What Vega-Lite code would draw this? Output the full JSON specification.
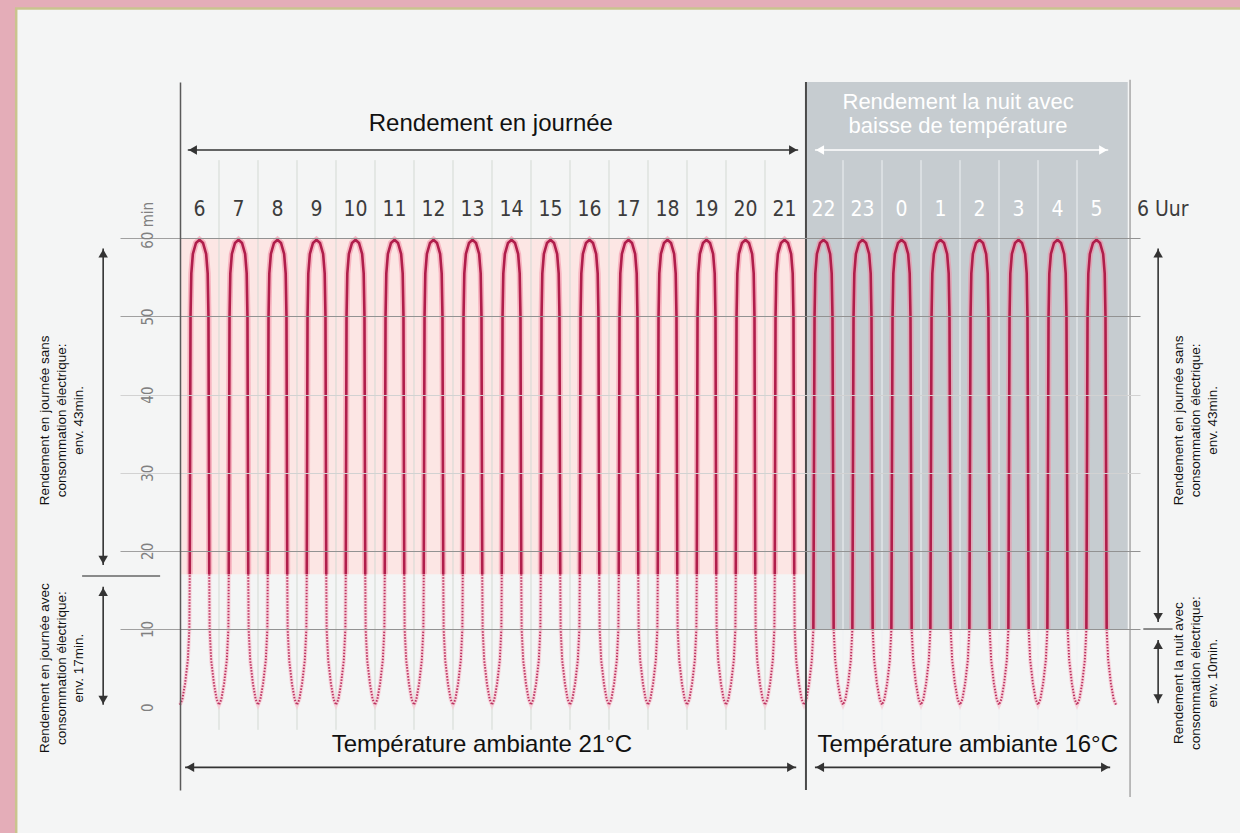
{
"$schema":"https://vega.github.io/schema/vega-lite/v6.json",
"width":960,"height":708,
"autosize":{"type":"none"},
"padding":{"left":180,"top":82,"right":100,"bottom":43},
"background":"#e4adb8",
"config":{"view":{"stroke":null},"font":"Liberation Sans"},
"resolve":{"scale":{"color":"independent"}},
"datasets":{
"arc":[
{"s":0,"x":0.25,"y":17},{"s":0,"x":0.27,"y":50},{"s":0,"x":0.29,"y":55.5},{"s":0,"x":0.33,"y":58},{"s":0,"x":0.41,"y":59.4},{"s":0,"x":0.5,"y":59.8},{"s":0,"x":0.59,"y":59.4},{"s":0,"x":0.67,"y":58},{"s":0,"x":0.71,"y":55.5},{"s":0,"x":0.73,"y":50},{"s":0,"x":0.75,"y":17},
{"s":1,"x":1.25,"y":17},{"s":1,"x":1.27,"y":50},{"s":1,"x":1.29,"y":55.5},{"s":1,"x":1.33,"y":58},{"s":1,"x":1.41,"y":59.4},{"s":1,"x":1.5,"y":59.8},{"s":1,"x":1.59,"y":59.4},{"s":1,"x":1.67,"y":58},{"s":1,"x":1.71,"y":55.5},{"s":1,"x":1.73,"y":50},{"s":1,"x":1.75,"y":17},
{"s":2,"x":2.25,"y":17},{"s":2,"x":2.27,"y":50},{"s":2,"x":2.29,"y":55.5},{"s":2,"x":2.33,"y":58},{"s":2,"x":2.41,"y":59.4},{"s":2,"x":2.5,"y":59.8},{"s":2,"x":2.59,"y":59.4},{"s":2,"x":2.67,"y":58},{"s":2,"x":2.71,"y":55.5},{"s":2,"x":2.73,"y":50},{"s":2,"x":2.75,"y":17},
{"s":3,"x":3.25,"y":17},{"s":3,"x":3.27,"y":50},{"s":3,"x":3.29,"y":55.5},{"s":3,"x":3.33,"y":58},{"s":3,"x":3.41,"y":59.4},{"s":3,"x":3.5,"y":59.8},{"s":3,"x":3.59,"y":59.4},{"s":3,"x":3.67,"y":58},{"s":3,"x":3.71,"y":55.5},{"s":3,"x":3.73,"y":50},{"s":3,"x":3.75,"y":17},
{"s":4,"x":4.25,"y":17},{"s":4,"x":4.27,"y":50},{"s":4,"x":4.29,"y":55.5},{"s":4,"x":4.33,"y":58},{"s":4,"x":4.41,"y":59.4},{"s":4,"x":4.5,"y":59.8},{"s":4,"x":4.59,"y":59.4},{"s":4,"x":4.67,"y":58},{"s":4,"x":4.71,"y":55.5},{"s":4,"x":4.73,"y":50},{"s":4,"x":4.75,"y":17},
{"s":5,"x":5.25,"y":17},{"s":5,"x":5.27,"y":50},{"s":5,"x":5.29,"y":55.5},{"s":5,"x":5.33,"y":58},{"s":5,"x":5.41,"y":59.4},{"s":5,"x":5.5,"y":59.8},{"s":5,"x":5.59,"y":59.4},{"s":5,"x":5.67,"y":58},{"s":5,"x":5.71,"y":55.5},{"s":5,"x":5.73,"y":50},{"s":5,"x":5.75,"y":17},
{"s":6,"x":6.25,"y":17},{"s":6,"x":6.27,"y":50},{"s":6,"x":6.29,"y":55.5},{"s":6,"x":6.33,"y":58},{"s":6,"x":6.41,"y":59.4},{"s":6,"x":6.5,"y":59.8},{"s":6,"x":6.59,"y":59.4},{"s":6,"x":6.67,"y":58},{"s":6,"x":6.71,"y":55.5},{"s":6,"x":6.73,"y":50},{"s":6,"x":6.75,"y":17},
{"s":7,"x":7.25,"y":17},{"s":7,"x":7.27,"y":50},{"s":7,"x":7.29,"y":55.5},{"s":7,"x":7.33,"y":58},{"s":7,"x":7.41,"y":59.4},{"s":7,"x":7.5,"y":59.8},{"s":7,"x":7.59,"y":59.4},{"s":7,"x":7.67,"y":58},{"s":7,"x":7.71,"y":55.5},{"s":7,"x":7.73,"y":50},{"s":7,"x":7.75,"y":17},
{"s":8,"x":8.25,"y":17},{"s":8,"x":8.27,"y":50},{"s":8,"x":8.29,"y":55.5},{"s":8,"x":8.33,"y":58},{"s":8,"x":8.41,"y":59.4},{"s":8,"x":8.5,"y":59.8},{"s":8,"x":8.59,"y":59.4},{"s":8,"x":8.67,"y":58},{"s":8,"x":8.71,"y":55.5},{"s":8,"x":8.73,"y":50},{"s":8,"x":8.75,"y":17},
{"s":9,"x":9.25,"y":17},{"s":9,"x":9.27,"y":50},{"s":9,"x":9.29,"y":55.5},{"s":9,"x":9.33,"y":58},{"s":9,"x":9.41,"y":59.4},{"s":9,"x":9.5,"y":59.8},{"s":9,"x":9.59,"y":59.4},{"s":9,"x":9.67,"y":58},{"s":9,"x":9.71,"y":55.5},{"s":9,"x":9.73,"y":50},{"s":9,"x":9.75,"y":17},
{"s":10,"x":10.25,"y":17},{"s":10,"x":10.27,"y":50},{"s":10,"x":10.29,"y":55.5},{"s":10,"x":10.33,"y":58},{"s":10,"x":10.41,"y":59.4},{"s":10,"x":10.5,"y":59.8},{"s":10,"x":10.59,"y":59.4},{"s":10,"x":10.67,"y":58},{"s":10,"x":10.71,"y":55.5},{"s":10,"x":10.73,"y":50},{"s":10,"x":10.75,"y":17},
{"s":11,"x":11.25,"y":17},{"s":11,"x":11.27,"y":50},{"s":11,"x":11.29,"y":55.5},{"s":11,"x":11.33,"y":58},{"s":11,"x":11.41,"y":59.4},{"s":11,"x":11.5,"y":59.8},{"s":11,"x":11.59,"y":59.4},{"s":11,"x":11.67,"y":58},{"s":11,"x":11.71,"y":55.5},{"s":11,"x":11.73,"y":50},{"s":11,"x":11.75,"y":17},
{"s":12,"x":12.25,"y":17},{"s":12,"x":12.27,"y":50},{"s":12,"x":12.29,"y":55.5},{"s":12,"x":12.33,"y":58},{"s":12,"x":12.41,"y":59.4},{"s":12,"x":12.5,"y":59.8},{"s":12,"x":12.59,"y":59.4},{"s":12,"x":12.67,"y":58},{"s":12,"x":12.71,"y":55.5},{"s":12,"x":12.73,"y":50},{"s":12,"x":12.75,"y":17},
{"s":13,"x":13.25,"y":17},{"s":13,"x":13.27,"y":50},{"s":13,"x":13.29,"y":55.5},{"s":13,"x":13.33,"y":58},{"s":13,"x":13.41,"y":59.4},{"s":13,"x":13.5,"y":59.8},{"s":13,"x":13.59,"y":59.4},{"s":13,"x":13.67,"y":58},{"s":13,"x":13.71,"y":55.5},{"s":13,"x":13.73,"y":50},{"s":13,"x":13.75,"y":17},
{"s":14,"x":14.25,"y":17},{"s":14,"x":14.27,"y":50},{"s":14,"x":14.29,"y":55.5},{"s":14,"x":14.33,"y":58},{"s":14,"x":14.41,"y":59.4},{"s":14,"x":14.5,"y":59.8},{"s":14,"x":14.59,"y":59.4},{"s":14,"x":14.67,"y":58},{"s":14,"x":14.71,"y":55.5},{"s":14,"x":14.73,"y":50},{"s":14,"x":14.75,"y":17},
{"s":15,"x":15.25,"y":17},{"s":15,"x":15.27,"y":50},{"s":15,"x":15.29,"y":55.5},{"s":15,"x":15.33,"y":58},{"s":15,"x":15.41,"y":59.4},{"s":15,"x":15.5,"y":59.8},{"s":15,"x":15.59,"y":59.4},{"s":15,"x":15.67,"y":58},{"s":15,"x":15.71,"y":55.5},{"s":15,"x":15.73,"y":50},{"s":15,"x":15.75,"y":17},
{"s":16,"x":16.24,"y":10},{"s":16,"x":16.27,"y":50},{"s":16,"x":16.29,"y":55.5},{"s":16,"x":16.33,"y":58},{"s":16,"x":16.41,"y":59.4},{"s":16,"x":16.5,"y":59.8},{"s":16,"x":16.59,"y":59.4},{"s":16,"x":16.67,"y":58},{"s":16,"x":16.71,"y":55.5},{"s":16,"x":16.73,"y":50},{"s":16,"x":16.76,"y":10},
{"s":17,"x":17.24,"y":10},{"s":17,"x":17.27,"y":50},{"s":17,"x":17.29,"y":55.5},{"s":17,"x":17.33,"y":58},{"s":17,"x":17.41,"y":59.4},{"s":17,"x":17.5,"y":59.8},{"s":17,"x":17.59,"y":59.4},{"s":17,"x":17.67,"y":58},{"s":17,"x":17.71,"y":55.5},{"s":17,"x":17.73,"y":50},{"s":17,"x":17.76,"y":10},
{"s":18,"x":18.24,"y":10},{"s":18,"x":18.27,"y":50},{"s":18,"x":18.29,"y":55.5},{"s":18,"x":18.33,"y":58},{"s":18,"x":18.41,"y":59.4},{"s":18,"x":18.5,"y":59.8},{"s":18,"x":18.59,"y":59.4},{"s":18,"x":18.67,"y":58},{"s":18,"x":18.71,"y":55.5},{"s":18,"x":18.73,"y":50},{"s":18,"x":18.76,"y":10},
{"s":19,"x":19.24,"y":10},{"s":19,"x":19.27,"y":50},{"s":19,"x":19.29,"y":55.5},{"s":19,"x":19.33,"y":58},{"s":19,"x":19.41,"y":59.4},{"s":19,"x":19.5,"y":59.8},{"s":19,"x":19.59,"y":59.4},{"s":19,"x":19.67,"y":58},{"s":19,"x":19.71,"y":55.5},{"s":19,"x":19.73,"y":50},{"s":19,"x":19.76,"y":10},
{"s":20,"x":20.24,"y":10},{"s":20,"x":20.27,"y":50},{"s":20,"x":20.29,"y":55.5},{"s":20,"x":20.33,"y":58},{"s":20,"x":20.41,"y":59.4},{"s":20,"x":20.5,"y":59.8},{"s":20,"x":20.59,"y":59.4},{"s":20,"x":20.67,"y":58},{"s":20,"x":20.71,"y":55.5},{"s":20,"x":20.73,"y":50},{"s":20,"x":20.76,"y":10},
{"s":21,"x":21.24,"y":10},{"s":21,"x":21.27,"y":50},{"s":21,"x":21.29,"y":55.5},{"s":21,"x":21.33,"y":58},{"s":21,"x":21.41,"y":59.4},{"s":21,"x":21.5,"y":59.8},{"s":21,"x":21.59,"y":59.4},{"s":21,"x":21.67,"y":58},{"s":21,"x":21.71,"y":55.5},{"s":21,"x":21.73,"y":50},{"s":21,"x":21.76,"y":10},
{"s":22,"x":22.24,"y":10},{"s":22,"x":22.27,"y":50},{"s":22,"x":22.29,"y":55.5},{"s":22,"x":22.33,"y":58},{"s":22,"x":22.41,"y":59.4},{"s":22,"x":22.5,"y":59.8},{"s":22,"x":22.59,"y":59.4},{"s":22,"x":22.67,"y":58},{"s":22,"x":22.71,"y":55.5},{"s":22,"x":22.73,"y":50},{"s":22,"x":22.76,"y":10},
{"s":23,"x":23.24,"y":10},{"s":23,"x":23.27,"y":50},{"s":23,"x":23.29,"y":55.5},{"s":23,"x":23.33,"y":58},{"s":23,"x":23.41,"y":59.4},{"s":23,"x":23.5,"y":59.8},{"s":23,"x":23.59,"y":59.4},{"s":23,"x":23.67,"y":58},{"s":23,"x":23.71,"y":55.5},{"s":23,"x":23.73,"y":50},{"s":23,"x":23.76,"y":10}
],
"dot":[
{"s":0,"x":0,"y":0.3},{"s":0,"x":0.06,"y":1},{"s":0,"x":0.13,"y":3},{"s":0,"x":0.2,"y":6},{"s":0,"x":0.24,"y":10},{"s":0,"x":0.25,"y":17},
{"s":1,"x":0.75,"y":17},{"s":1,"x":0.76,"y":10},{"s":1,"x":0.8,"y":6},{"s":1,"x":0.87,"y":3},{"s":1,"x":0.94,"y":1},{"s":1,"x":1,"y":0.3},{"s":1,"x":1.06,"y":1},{"s":1,"x":1.13,"y":3},{"s":1,"x":1.2,"y":6},{"s":1,"x":1.24,"y":10},{"s":1,"x":1.25,"y":17},
{"s":2,"x":1.75,"y":17},{"s":2,"x":1.76,"y":10},{"s":2,"x":1.8,"y":6},{"s":2,"x":1.87,"y":3},{"s":2,"x":1.94,"y":1},{"s":2,"x":2,"y":0.3},{"s":2,"x":2.06,"y":1},{"s":2,"x":2.13,"y":3},{"s":2,"x":2.2,"y":6},{"s":2,"x":2.24,"y":10},{"s":2,"x":2.25,"y":17},
{"s":3,"x":2.75,"y":17},{"s":3,"x":2.76,"y":10},{"s":3,"x":2.8,"y":6},{"s":3,"x":2.87,"y":3},{"s":3,"x":2.94,"y":1},{"s":3,"x":3,"y":0.3},{"s":3,"x":3.06,"y":1},{"s":3,"x":3.13,"y":3},{"s":3,"x":3.2,"y":6},{"s":3,"x":3.24,"y":10},{"s":3,"x":3.25,"y":17},
{"s":4,"x":3.75,"y":17},{"s":4,"x":3.76,"y":10},{"s":4,"x":3.8,"y":6},{"s":4,"x":3.87,"y":3},{"s":4,"x":3.94,"y":1},{"s":4,"x":4,"y":0.3},{"s":4,"x":4.06,"y":1},{"s":4,"x":4.13,"y":3},{"s":4,"x":4.2,"y":6},{"s":4,"x":4.24,"y":10},{"s":4,"x":4.25,"y":17},
{"s":5,"x":4.75,"y":17},{"s":5,"x":4.76,"y":10},{"s":5,"x":4.8,"y":6},{"s":5,"x":4.87,"y":3},{"s":5,"x":4.94,"y":1},{"s":5,"x":5,"y":0.3},{"s":5,"x":5.06,"y":1},{"s":5,"x":5.13,"y":3},{"s":5,"x":5.2,"y":6},{"s":5,"x":5.24,"y":10},{"s":5,"x":5.25,"y":17},
{"s":6,"x":5.75,"y":17},{"s":6,"x":5.76,"y":10},{"s":6,"x":5.8,"y":6},{"s":6,"x":5.87,"y":3},{"s":6,"x":5.94,"y":1},{"s":6,"x":6,"y":0.3},{"s":6,"x":6.06,"y":1},{"s":6,"x":6.13,"y":3},{"s":6,"x":6.2,"y":6},{"s":6,"x":6.24,"y":10},{"s":6,"x":6.25,"y":17},
{"s":7,"x":6.75,"y":17},{"s":7,"x":6.76,"y":10},{"s":7,"x":6.8,"y":6},{"s":7,"x":6.87,"y":3},{"s":7,"x":6.94,"y":1},{"s":7,"x":7,"y":0.3},{"s":7,"x":7.06,"y":1},{"s":7,"x":7.13,"y":3},{"s":7,"x":7.2,"y":6},{"s":7,"x":7.24,"y":10},{"s":7,"x":7.25,"y":17},
{"s":8,"x":7.75,"y":17},{"s":8,"x":7.76,"y":10},{"s":8,"x":7.8,"y":6},{"s":8,"x":7.87,"y":3},{"s":8,"x":7.94,"y":1},{"s":8,"x":8,"y":0.3},{"s":8,"x":8.06,"y":1},{"s":8,"x":8.13,"y":3},{"s":8,"x":8.2,"y":6},{"s":8,"x":8.24,"y":10},{"s":8,"x":8.25,"y":17},
{"s":9,"x":8.75,"y":17},{"s":9,"x":8.76,"y":10},{"s":9,"x":8.8,"y":6},{"s":9,"x":8.87,"y":3},{"s":9,"x":8.94,"y":1},{"s":9,"x":9,"y":0.3},{"s":9,"x":9.06,"y":1},{"s":9,"x":9.13,"y":3},{"s":9,"x":9.2,"y":6},{"s":9,"x":9.24,"y":10},{"s":9,"x":9.25,"y":17},
{"s":10,"x":9.75,"y":17},{"s":10,"x":9.76,"y":10},{"s":10,"x":9.8,"y":6},{"s":10,"x":9.87,"y":3},{"s":10,"x":9.94,"y":1},{"s":10,"x":10,"y":0.3},{"s":10,"x":10.06,"y":1},{"s":10,"x":10.13,"y":3},{"s":10,"x":10.2,"y":6},{"s":10,"x":10.24,"y":10},{"s":10,"x":10.25,"y":17},
{"s":11,"x":10.75,"y":17},{"s":11,"x":10.76,"y":10},{"s":11,"x":10.8,"y":6},{"s":11,"x":10.87,"y":3},{"s":11,"x":10.94,"y":1},{"s":11,"x":11,"y":0.3},{"s":11,"x":11.06,"y":1},{"s":11,"x":11.13,"y":3},{"s":11,"x":11.2,"y":6},{"s":11,"x":11.24,"y":10},{"s":11,"x":11.25,"y":17},
{"s":12,"x":11.75,"y":17},{"s":12,"x":11.76,"y":10},{"s":12,"x":11.8,"y":6},{"s":12,"x":11.87,"y":3},{"s":12,"x":11.94,"y":1},{"s":12,"x":12,"y":0.3},{"s":12,"x":12.06,"y":1},{"s":12,"x":12.13,"y":3},{"s":12,"x":12.2,"y":6},{"s":12,"x":12.24,"y":10},{"s":12,"x":12.25,"y":17},
{"s":13,"x":12.75,"y":17},{"s":13,"x":12.76,"y":10},{"s":13,"x":12.8,"y":6},{"s":13,"x":12.87,"y":3},{"s":13,"x":12.94,"y":1},{"s":13,"x":13,"y":0.3},{"s":13,"x":13.06,"y":1},{"s":13,"x":13.13,"y":3},{"s":13,"x":13.2,"y":6},{"s":13,"x":13.24,"y":10},{"s":13,"x":13.25,"y":17},
{"s":14,"x":13.75,"y":17},{"s":14,"x":13.76,"y":10},{"s":14,"x":13.8,"y":6},{"s":14,"x":13.87,"y":3},{"s":14,"x":13.94,"y":1},{"s":14,"x":14,"y":0.3},{"s":14,"x":14.06,"y":1},{"s":14,"x":14.13,"y":3},{"s":14,"x":14.2,"y":6},{"s":14,"x":14.24,"y":10},{"s":14,"x":14.25,"y":17},
{"s":15,"x":14.75,"y":17},{"s":15,"x":14.76,"y":10},{"s":15,"x":14.8,"y":6},{"s":15,"x":14.87,"y":3},{"s":15,"x":14.94,"y":1},{"s":15,"x":15,"y":0.3},{"s":15,"x":15.06,"y":1},{"s":15,"x":15.13,"y":3},{"s":15,"x":15.2,"y":6},{"s":15,"x":15.24,"y":10},{"s":15,"x":15.25,"y":17},
{"s":16,"x":15.75,"y":17},{"s":16,"x":15.76,"y":10},{"s":16,"x":15.8,"y":6},{"s":16,"x":15.87,"y":3},{"s":16,"x":15.94,"y":1},{"s":16,"x":16,"y":0.3},{"s":16,"x":16.06,"y":1},{"s":16,"x":16.13,"y":3},{"s":16,"x":16.2,"y":6},{"s":16,"x":16.24,"y":10},
{"s":17,"x":16.76,"y":10},{"s":17,"x":16.8,"y":6},{"s":17,"x":16.87,"y":3},{"s":17,"x":16.94,"y":1},{"s":17,"x":17,"y":0.3},{"s":17,"x":17.06,"y":1},{"s":17,"x":17.13,"y":3},{"s":17,"x":17.2,"y":6},{"s":17,"x":17.24,"y":10},
{"s":18,"x":17.76,"y":10},{"s":18,"x":17.8,"y":6},{"s":18,"x":17.87,"y":3},{"s":18,"x":17.94,"y":1},{"s":18,"x":18,"y":0.3},{"s":18,"x":18.06,"y":1},{"s":18,"x":18.13,"y":3},{"s":18,"x":18.2,"y":6},{"s":18,"x":18.24,"y":10},
{"s":19,"x":18.76,"y":10},{"s":19,"x":18.8,"y":6},{"s":19,"x":18.87,"y":3},{"s":19,"x":18.94,"y":1},{"s":19,"x":19,"y":0.3},{"s":19,"x":19.06,"y":1},{"s":19,"x":19.13,"y":3},{"s":19,"x":19.2,"y":6},{"s":19,"x":19.24,"y":10},
{"s":20,"x":19.76,"y":10},{"s":20,"x":19.8,"y":6},{"s":20,"x":19.87,"y":3},{"s":20,"x":19.94,"y":1},{"s":20,"x":20,"y":0.3},{"s":20,"x":20.06,"y":1},{"s":20,"x":20.13,"y":3},{"s":20,"x":20.2,"y":6},{"s":20,"x":20.24,"y":10},
{"s":21,"x":20.76,"y":10},{"s":21,"x":20.8,"y":6},{"s":21,"x":20.87,"y":3},{"s":21,"x":20.94,"y":1},{"s":21,"x":21,"y":0.3},{"s":21,"x":21.06,"y":1},{"s":21,"x":21.13,"y":3},{"s":21,"x":21.2,"y":6},{"s":21,"x":21.24,"y":10},
{"s":22,"x":21.76,"y":10},{"s":22,"x":21.8,"y":6},{"s":22,"x":21.87,"y":3},{"s":22,"x":21.94,"y":1},{"s":22,"x":22,"y":0.3},{"s":22,"x":22.06,"y":1},{"s":22,"x":22.13,"y":3},{"s":22,"x":22.2,"y":6},{"s":22,"x":22.24,"y":10},
{"s":23,"x":22.76,"y":10},{"s":23,"x":22.8,"y":6},{"s":23,"x":22.87,"y":3},{"s":23,"x":22.94,"y":1},{"s":23,"x":23,"y":0.3},{"s":23,"x":23.06,"y":1},{"s":23,"x":23.13,"y":3},{"s":23,"x":23.2,"y":6},{"s":23,"x":23.24,"y":10},
{"s":24,"x":23.76,"y":10},{"s":24,"x":23.8,"y":6},{"s":24,"x":23.87,"y":3},{"s":24,"x":23.94,"y":1},{"s":24,"x":24,"y":0.3}
],
"sep":[
{"x":1,"p":"d"},{"x":2,"p":"d"},{"x":3,"p":"d"},{"x":4,"p":"d"},{"x":5,"p":"d"},{"x":6,"p":"d"},{"x":7,"p":"d"},{"x":8,"p":"d"},{"x":9,"p":"d"},{"x":10,"p":"d"},{"x":11,"p":"d"},{"x":12,"p":"d"},{"x":13,"p":"d"},{"x":14,"p":"d"},{"x":15,"p":"d"},
{"x":17,"p":"n"},{"x":18,"p":"n"},{"x":19,"p":"n"},{"x":20,"p":"n"},{"x":21,"p":"n"},{"x":22,"p":"n"},{"x":23,"p":"n"}
],
"hrs":[
{"x":0.5,"t":"6","p":"d"},{"x":1.5,"t":"7","p":"d"},{"x":2.5,"t":"8","p":"d"},{"x":3.5,"t":"9","p":"d"},{"x":4.5,"t":"10","p":"d"},{"x":5.5,"t":"11","p":"d"},{"x":6.5,"t":"12","p":"d"},{"x":7.5,"t":"13","p":"d"},{"x":8.5,"t":"14","p":"d"},{"x":9.5,"t":"15","p":"d"},{"x":10.5,"t":"16","p":"d"},{"x":11.5,"t":"17","p":"d"},{"x":12.5,"t":"18","p":"d"},{"x":13.5,"t":"19","p":"d"},{"x":14.5,"t":"20","p":"d"},{"x":15.5,"t":"21","p":"d"},
{"x":16.5,"t":"22","p":"n"},{"x":17.5,"t":"23","p":"n"},{"x":18.5,"t":"0","p":"n"},{"x":19.5,"t":"1","p":"n"},{"x":20.5,"t":"2","p":"n"},{"x":21.5,"t":"3","p":"n"},{"x":22.5,"t":"4","p":"n"},{"x":23.5,"t":"5","p":"n"},
{"x":25.2,"t":"6 Uur","p":"d"}
],
"harr":[
{"x1":0.2,"x2":15.85,"y":71.3,"c":"k"},
{"x1":16.28,"x2":23.8,"y":71.3,"c":"w"},
{"x1":0.13,"x2":15.8,"y":-7.7,"c":"k"},
{"x1":16.28,"x2":23.85,"y":-7.7,"c":"k"}
],
"varr":[
{"x":-1.97,"y1":18.2,"y2":58.7},
{"x":-1.97,"y1":0.3,"y2":15.4},
{"x":25.08,"y1":10.9,"y2":58.7},
{"x":25.08,"y1":0.5,"y2":8.6}
],
"tick":[
{"x1":-2.51,"x2":-0.51,"y":16.8},
{"x1":24.7,"x2":25.45,"y":10}
],
"big":[
{"x":7.97,"y":74.6,"t":"Rendement en journée"},
{"x":7.74,"y":-4.8,"t":"Température ambiante 21°C"},
{"x":20.2,"y":-4.8,"t":"Température ambiante 16°C"}
],
"side":[
{"x":-3.46,"y":36.7,"t":["Rendement en journée sans","consommation électrique:","env. 43min."]},
{"x":-3.46,"y":5.0,"t":["Rendement en journée avec","consommation électrique:","env. 17min."]},
{"x":25.62,"y":36.7,"t":["Rendement en journée sans","consommation électrique:","env. 43min."]},
{"x":25.62,"y":4.35,"t":["Rendement la nuit avec","consommation électrique:","env. 10min."]}
]
},
"layer":[
{"data":{"values":[{}]},"mark":{"type":"rect","fill":"#f4f5f5","stroke":"#c9c48e","strokeWidth":2.5},
 "encoding":{"x":{"datum":-4.2,"type":"quantitative","scale":{"domain":[0,24.615],"nice":false,"zero":false},"axis":null},"x2":{"datum":30},
 "y":{"datum":89.4,"type":"quantitative","scale":{"domain":[-10.6,80],"nice":false,"zero":false}},"y2":{"datum":-20}}},
{"data":{"values":[{}]},"mark":{"type":"rect","fill":"#fce6e4"},
 "encoding":{"x":{"datum":0,"type":"quantitative","scale":{"domain":[0,24.615],"nice":false,"zero":false},"axis":null},"x2":{"datum":16.05},
 "y":{"datum":17,"type":"quantitative","scale":{"domain":[-10.6,80],"nice":false,"zero":false}},
 "y2":{"datum":60}}},
{"data":{"values":[{}]},"mark":{"type":"rect","fill":"#c6ccd0"},
 "encoding":{"x":{"datum":16.05,"type":"quantitative","scale":{"domain":[0,24.615],"nice":false,"zero":false},"axis":null},"x2":{"datum":24.3},
 "y":{"datum":10,"type":"quantitative","scale":{"domain":[-10.6,80],"nice":false,"zero":false}},"y2":{"datum":80}}},
{"data":{"name":"sep"},"mark":{"type":"rule","strokeWidth":1},
 "encoding":{"x":{"field":"x","type":"quantitative","scale":{"domain":[0,24.615],"nice":false,"zero":false},"axis":null},
 "y":{"datum":70,"type":"quantitative","scale":{"domain":[-10.6,80],"nice":false,"zero":false}},"y2":{"datum":-2.9},
 "color":{"field":"p","type":"nominal","scale":{"domain":["d","n"],"range":["#d3d9d3","#eef1f3"]},"legend":null}}},
{"data":{"name":"dot"},"mark":{"type":"line","stroke":"#f8c6d2","strokeWidth":4,"opacity":0.7},
 "encoding":{"x":{"field":"x","type":"quantitative","scale":{"domain":[0,24.615],"nice":false,"zero":false},"axis":null},
 "y":{"field":"y","type":"quantitative","scale":{"domain":[-10.6,80],"nice":false,"zero":false}},"detail":{"field":"s"}}},
{"data":{"name":"arc"},"mark":{"type":"line","stroke":"#f38aa2","strokeWidth":6,"opacity":0.55},
 "encoding":{"x":{"field":"x","type":"quantitative","scale":{"domain":[0,24.615],"nice":false,"zero":false},"axis":null},
 "y":{"field":"y","type":"quantitative","scale":{"domain":[-10.6,80],"nice":false,"zero":false},
  "axis":{"values":[0,10,20,30,40,50,60],"title":null,"orient":"left","zindex":1,
   "domain":true,"domainColor":"#5a5a5a","domainWidth":1.5,
   "grid":true,"gridWidth":1,
   "gridColor":{"condition":{"test":"datum.value == 30 || datum.value == 40","value":"#d2d2d2"},"value":"#929292"},
   "gridOpacity":{"condition":{"test":"datum.value == 0","value":0},"value":1},
   "ticks":true,"tickSize":60,"tickWidth":1,
   "tickColor":{"condition":{"test":"datum.value == 30 || datum.value == 40","value":"#d2d2d2"},"value":"#a0a0a0"},
   "tickOpacity":{"condition":{"test":"datum.value == 0","value":0},"value":1},
   "labelAngle":270,"labelBaseline":"middle",
   "labelAlign":{"condition":{"test":"datum.value == 60","value":"left"},"value":"center"},
   "labelOffset":{"condition":{"test":"datum.value == 60","value":10},"value":0},
   "labelPadding":-27,"labelColor":"#808080","labelFont":"'Liberation Sans Narrow', 'DejaVu Sans Condensed', 'Liberation Sans', sans-serif","labelFontSize":15,"labelOverlap":false,"labelFlush":false,
   "labelExpr":"datum.value == 60 ? '60 min' : datum.label"}},
 "detail":{"field":"s"}}},
{"data":{"name":"dot"},"mark":{"type":"line","stroke":"#bd3462","strokeWidth":2,"strokeDash":[1.5,1.5]},
 "encoding":{"x":{"field":"x","type":"quantitative","scale":{"domain":[0,24.615],"nice":false,"zero":false},"axis":null},
 "y":{"field":"y","type":"quantitative","scale":{"domain":[-10.6,80],"nice":false,"zero":false}},"detail":{"field":"s"}}},
{"data":{"name":"arc"},"mark":{"type":"line","stroke":"#b01e4b","strokeWidth":2.6},
 "encoding":{"x":{"field":"x","type":"quantitative","scale":{"domain":[0,24.615],"nice":false,"zero":false},"axis":null},
 "y":{"field":"y","type":"quantitative","scale":{"domain":[-10.6,80],"nice":false,"zero":false}},"detail":{"field":"s"}}},
{"data":{"values":[{}]},"mark":{"type":"rule","stroke":"#4a4a4a","strokeWidth":2},
 "encoding":{"x":{"datum":16.05,"type":"quantitative","scale":{"domain":[0,24.615],"nice":false,"zero":false},"axis":null},
 "y":{"datum":-10.6,"type":"quantitative","scale":{"domain":[-10.6,80],"nice":false,"zero":false}},"y2":{"datum":80}}},
{"data":{"values":[{}]},"mark":{"type":"rule","stroke":"#a8a8a8","strokeWidth":1.5},
 "encoding":{"x":{"datum":24.36,"type":"quantitative","scale":{"domain":[0,24.615],"nice":false,"zero":false},"axis":null},
 "y":{"datum":-11.5,"type":"quantitative","scale":{"domain":[-10.6,80],"nice":false,"zero":false}},"y2":{"datum":80.3}}},
{"data":{"name":"harr"},"mark":{"type":"rule","strokeWidth":1.6},
 "encoding":{"x":{"field":"x1","type":"quantitative","scale":{"domain":[0,24.615],"nice":false,"zero":false},"axis":null},"x2":{"field":"x2"},
 "y":{"field":"y","type":"quantitative","scale":{"domain":[-10.6,80],"nice":false,"zero":false}},
 "color":{"field":"c","type":"nominal","scale":{"domain":["k","w"],"range":["#333333","#ffffff"]},"legend":null}}},
{"data":{"name":"harr"},"mark":{"type":"point","shape":"triangle-left","filled":true,"size":90,"opacity":1},
 "encoding":{"x":{"field":"x1","type":"quantitative","scale":{"domain":[0,24.615],"nice":false,"zero":false},"axis":null},"xOffset":{"value":5},
 "y":{"field":"y","type":"quantitative","scale":{"domain":[-10.6,80],"nice":false,"zero":false}},
 "color":{"field":"c","type":"nominal","scale":{"domain":["k","w"],"range":["#333333","#ffffff"]},"legend":null}}},
{"data":{"name":"harr"},"mark":{"type":"point","shape":"triangle-right","filled":true,"size":90,"opacity":1},
 "encoding":{"x":{"field":"x2","type":"quantitative","scale":{"domain":[0,24.615],"nice":false,"zero":false},"axis":null},"xOffset":{"value":-5},
 "y":{"field":"y","type":"quantitative","scale":{"domain":[-10.6,80],"nice":false,"zero":false}},
 "color":{"field":"c","type":"nominal","scale":{"domain":["k","w"],"range":["#333333","#ffffff"]},"legend":null}}},
{"data":{"name":"varr"},"mark":{"type":"rule","strokeWidth":1.6,"color":"#333333"},
 "encoding":{"x":{"field":"x","type":"quantitative","scale":{"domain":[0,24.615],"nice":false,"zero":false},"axis":null},
 "y":{"field":"y1","type":"quantitative","scale":{"domain":[-10.6,80],"nice":false,"zero":false}},"y2":{"field":"y2"}}},
{"data":{"name":"varr"},"mark":{"type":"point","shape":"triangle-up","filled":true,"size":90,"opacity":1,"color":"#333333"},
 "encoding":{"x":{"field":"x","type":"quantitative","scale":{"domain":[0,24.615],"nice":false,"zero":false},"axis":null},
 "y":{"field":"y2","type":"quantitative","scale":{"domain":[-10.6,80],"nice":false,"zero":false}},"yOffset":{"value":5}}},
{"data":{"name":"varr"},"mark":{"type":"point","shape":"triangle-down","filled":true,"size":90,"opacity":1,"color":"#333333"},
 "encoding":{"x":{"field":"x","type":"quantitative","scale":{"domain":[0,24.615],"nice":false,"zero":false},"axis":null},
 "y":{"field":"y1","type":"quantitative","scale":{"domain":[-10.6,80],"nice":false,"zero":false}},"yOffset":{"value":-5}}},
{"data":{"name":"tick"},"mark":{"type":"rule","strokeWidth":1.5,"color":"#666666"},
 "encoding":{"x":{"field":"x1","type":"quantitative","scale":{"domain":[0,24.615],"nice":false,"zero":false},"axis":null},"x2":{"field":"x2"},
 "y":{"field":"y","type":"quantitative","scale":{"domain":[-10.6,80],"nice":false,"zero":false}}}},
{"data":{"name":"hrs"},"mark":{"type":"text","fontSize":21,"align":"center","baseline":"middle","font":"'Liberation Sans Narrow', 'DejaVu Sans Condensed', 'Liberation Sans', sans-serif"},
 "encoding":{"x":{"field":"x","type":"quantitative","scale":{"domain":[0,24.615],"nice":false,"zero":false},"axis":null},
 "y":{"datum":63.6,"type":"quantitative","scale":{"domain":[-10.6,80],"nice":false,"zero":false}},
 "text":{"field":"t"},
 "color":{"field":"p","type":"nominal","scale":{"domain":["d","n"],"range":["#3c3c3c","#ffffff"]},"legend":null}}},
{"data":{"name":"big"},"mark":{"type":"text","fontSize":24,"align":"center","baseline":"middle","color":"#111111"},
 "encoding":{"x":{"field":"x","type":"quantitative","scale":{"domain":[0,24.615],"nice":false,"zero":false},"axis":null},
 "y":{"field":"y","type":"quantitative","scale":{"domain":[-10.6,80],"nice":false,"zero":false}},
 "text":{"field":"t"}}},
{"data":{"values":[{"x":19.95,"y":77.4,"t":["Rendement la nuit avec","baisse de température"]}]},
 "mark":{"type":"text","fontSize":22,"lineHeight":24,"align":"center","baseline":"middle","color":"#ffffff"},
 "encoding":{"x":{"field":"x","type":"quantitative","scale":{"domain":[0,24.615],"nice":false,"zero":false},"axis":null},
 "y":{"field":"y","type":"quantitative","scale":{"domain":[-10.6,80],"nice":false,"zero":false}},
 "text":{"field":"t"}}},
{"data":{"name":"side"},"mark":{"type":"text","fontSize":13.5,"lineHeight":17,"angle":270,"align":"center","baseline":"middle","color":"#111111"},
 "encoding":{"x":{"field":"x","type":"quantitative","scale":{"domain":[0,24.615],"nice":false,"zero":false},"axis":null},
 "y":{"field":"y","type":"quantitative","scale":{"domain":[-10.6,80],"nice":false,"zero":false}},
 "text":{"field":"t"}}}
]
}
